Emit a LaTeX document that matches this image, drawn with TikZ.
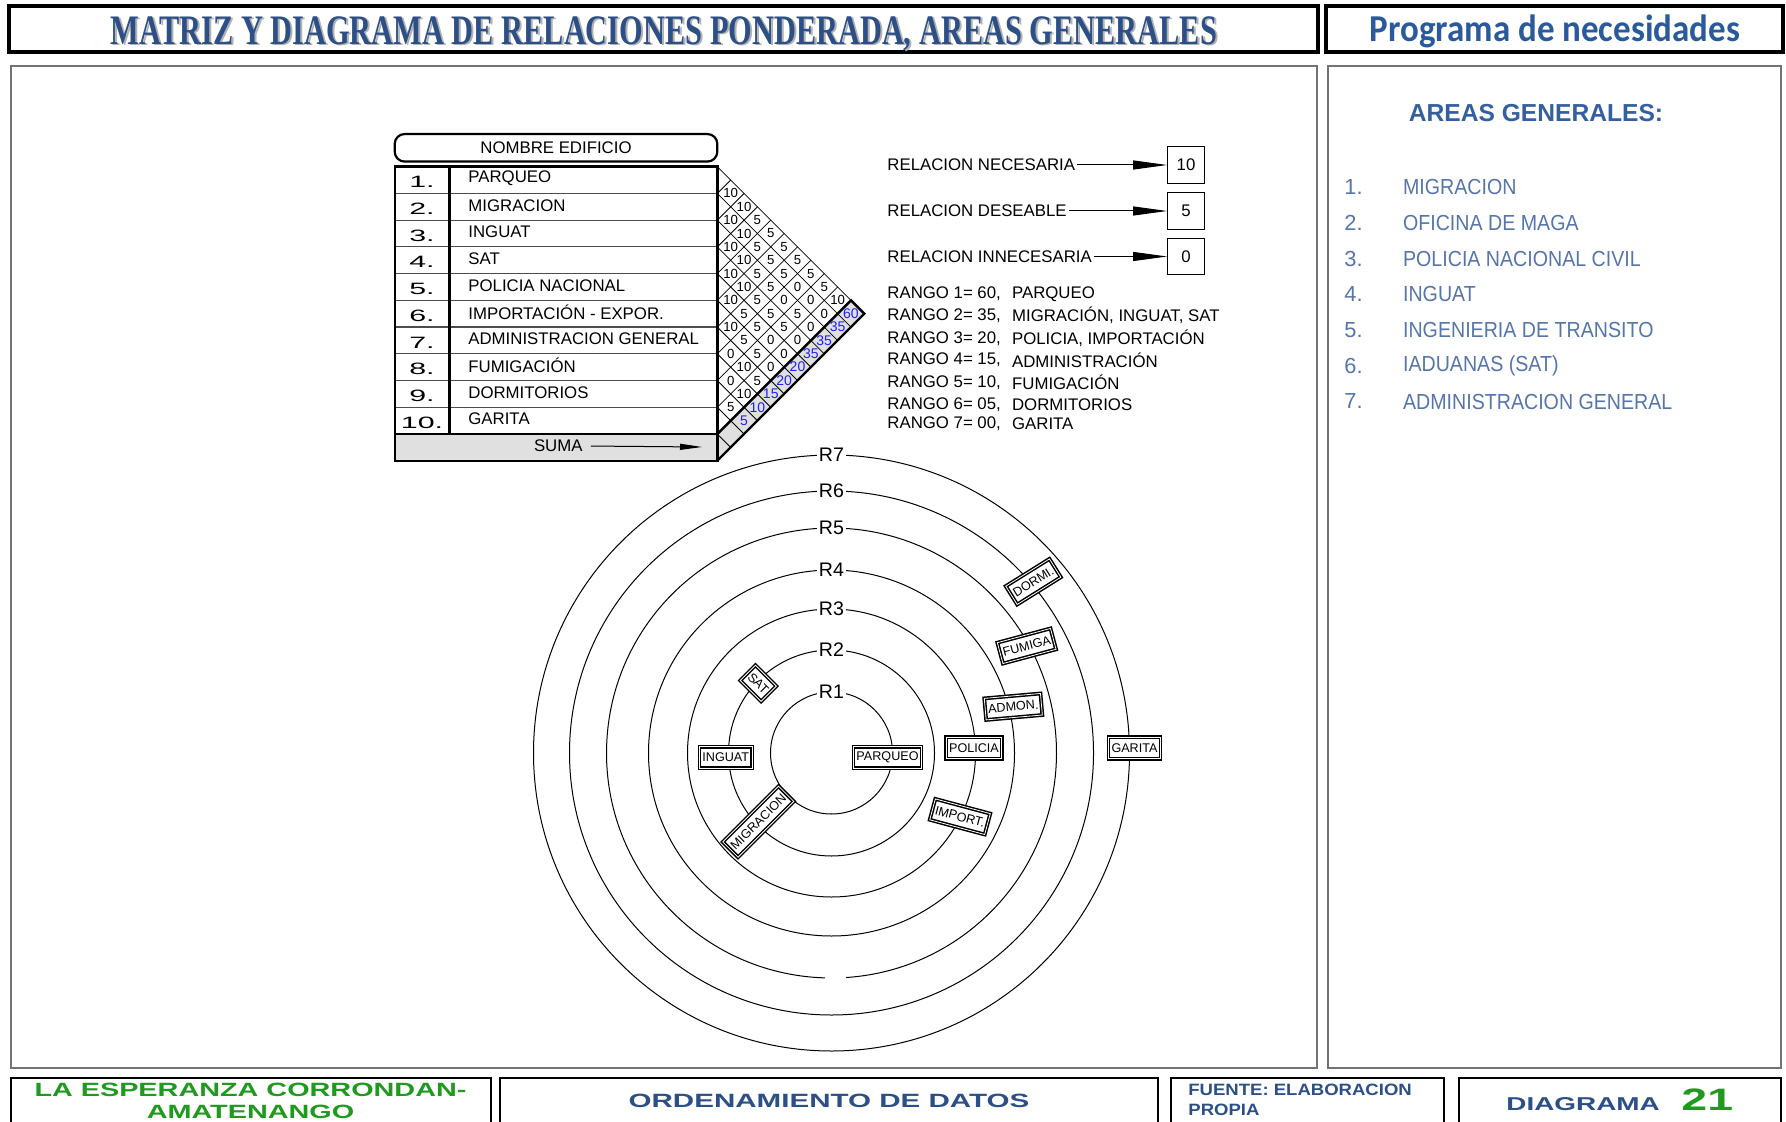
\documentclass[tikz,border=0pt]{standalone}
\usepackage{fontspec}
\setmainfont{Liberation Sans}
\newfontfamily\serifb{Liberation Serif}
\newfontfamily\calib{Carlito}
\usepackage{graphicx}
\usetikzlibrary{calc,arrows.meta,positioning}
\definecolor{ttlc}{HTML}{2B4F86}
\definecolor{progc}{HTML}{2A5A9C}
\definecolor{areac}{HTML}{34609F}
\definecolor{itemc}{HTML}{5575AB}
\definecolor{grnc}{HTML}{1F9A1F}
\definecolor{sumc}{HTML}{2020F0}
\definecolor{sumbg}{HTML}{E0E0E0}
\tikzset{
  frmtop/.style={draw=black,line width=1.6pt},
  frmpan/.style={draw=black!55,line width=1.1pt},
  frmbot/.style={draw=black,line width=1.4pt},
  ttl/.style={font=\serifb\bfseries\fontsize{21}{22}\selectfont,text=ttlc,inner sep=0pt},
  progt/.style={font=\calib\bfseries\fontsize{19}{20}\selectfont,text=progc,inner sep=0pt},
  areat/.style={font=\bfseries\fontsize{12.3}{14}\selectfont,text=areac,inner sep=0pt},
  areai/.style={font=\fontsize{10.9}{12}\selectfont,text=itemc,inner sep=0pt,anchor=west},
  extb/.style={font=\bfseries\fontsize{9.6}{11}\selectfont,inner sep=0pt},
  rowtxt/.style={font=\fontsize{8.4}{10}\selectfont,inner sep=1pt},
  numtxt/.style={font=\fontsize{8.2}{9}\selectfont,inner sep=0pt},
  legtxt/.style={font=\fontsize{8.4}{10}\selectfont,inner sep=1pt},
  hdrbox/.style={draw,line width=1.1pt,rounded corners=5pt,minimum width=161.3pt,minimum height=13.8pt,font=\fontsize{8.4}{10}\selectfont,inner sep=0pt},
  valbox/.style={draw,line width=0.6pt,minimum size=18.3pt,inner sep=0pt,font=\fontsize{8.4}{10}\selectfont},
  legar/.style={-{Triangle[length=17pt,width=4.5pt]},line width=0.5pt},
  sumar/.style={-{Triangle[length=11pt,width=3pt]},line width=0.5pt,shorten <=3pt},
  rowln/.style={draw=black!70,line width=0.6pt},
  gridln/.style={line width=0.4pt},
  mthick/.style={line width=1.2pt},
  cellv/.style={font=\fontsize{6.6}{7}\selectfont,inner sep=0pt},
  sumv/.style={font=\fontsize{7}{8}\selectfont,text=sumc,inner sep=0pt},
  ring/.style={line width=0.5pt},
  rlab/.style={fill=white,inner sep=1pt,font=\fontsize{9.8}{10}\selectfont},
  bld/.style={draw,double,line width=0.75pt,double distance=0.4pt,fill=white,font=\fontsize{6.3}{7}\selectfont,inner xsep=1.5pt,inner ysep=0pt,minimum height=10.8pt}
}
\begin{document}
\begin{tikzpicture}[x=0.5pt,y=-0.5pt]
\useasboundingbox (0,0) rectangle (1786,1122);
\fill[white] (0,0) rectangle (1786,1122);
% marcos
\draw[frmtop] (9,6) rectangle (1318,52);
\draw[frmtop] (1326,6) rectangle (1783,52);
\draw[frmpan] (11,66) rectangle (1317,1068);
\draw[frmpan] (1328,66) rectangle (1781,1068);
\draw[frmbot] (11,1130) |- (491,1078) -- (491,1130);
\draw[frmbot] (500,1130) |- (1158,1078) -- (1158,1130);
\draw[frmbot] (1171,1130) |- (1444,1078) -- (1444,1130);
\draw[frmbot] (1459,1130) |- (1781,1078) -- (1781,1130);
% titulos
\node[ttl,text=black!30] (ttlsh) at (666,35.3) {\scalebox{0.723}[1]{MATRIZ Y DIAGRAMA DE RELACIONES PONDERADA, AREAS GENERALES}};
\node[ttl] (ttl) at (664,33.5) {\scalebox{0.723}[1]{MATRIZ Y DIAGRAMA DE RELACIONES PONDERADA, AREAS GENERALES}};
\node[progt] (prog) at (1555,31.5) {\scalebox{0.92}[1]{Programa de necesidades}};
% panel derecho
\node[areat] (areas) at (1536,112.8) {AREAS GENERALES:};
\foreach \n/\tx in {1/MIGRACION,2/OFICINA  DE MAGA,3/POLICIA  NACIONAL  CIVIL,4/INGUAT,5/INGENIERIA  DE TRANSITO,6/IADUANAS (SAT),7/ADMINISTRACION  GENERAL}{
  \node[areai] (an\n) at (1344,{187.3+(\n-1)*35.7}) {\n.};
  \node[areai] (ai\n) at (1402.7,{187.3+(\n-1)*35.7}) {\scalebox{0.9}[1]{\tx}};
}
% pie
\node[extb,text=grnc] (loc1) at (250.5,1090) {\scalebox{1.5}[1]{LA ESPERANZA  CORRONDAN-}};
\node[extb,text=grnc] (loc2) at (250.5,1112) {\scalebox{1.5}[1]{AMATENANGO}};
\node[extb,text=ttlc] (orden) at (829,1101) {\scalebox{1.54}[1]{ORDENAMIENTO DE DATOS}};
\node[extb,text=ttlc,anchor=west,font=\bfseries\fontsize{8.2}{9}\selectfont] (fte1) at (1188,1090) {\scalebox{1.13}[1]{FUENTE: ELABORACION}};
\node[extb,text=ttlc,anchor=west,font=\bfseries\fontsize{8.2}{9}\selectfont] (fte2) at (1188,1110) {\scalebox{1.13}[1]{PROPIA}};
\node[extb,text=ttlc,anchor=west,font=\bfseries\fontsize{9.3}{10}\selectfont] (diag) at (1506,1104) {\scalebox{1.5}[1]{DIAGRAMA}};
\node[extb,text=grnc,anchor=west,font=\bfseries\fontsize{15.5}{16}\selectfont] (dnum) at (1681,1100) {\scalebox{1.5}[1]{21}};
% matriz
\def\mX{717.3}\def\mT{166.7}\def\mh{26.73}
\node[hdrbox] (hdr) at (556,147.8) {NOMBRE EDIFICIO};
\fill[sumbg] (394.7,\mT+10*\mh) rectangle (\mX,\mT+11*\mh);
\fill[sumbg] (\mX,\mT+10*\mh) -- ++(5*\mh,-5*\mh) -- ++(0.5*\mh,0.5*\mh) -- (\mX,\mT+11*\mh) -- cycle;
\foreach \k in {0,...,11}{
  \draw[gridln] (\mX,\mT+\k*\mh) -- ++({(11-\k)*\mh/2},{(11-\k)*\mh/2});
  \draw[gridln] (\mX,\mT+\k*\mh) -- ++({\k*\mh/2},{-\k*\mh/2});
}
\draw[mthick] (\mX,\mT+10*\mh) -- ++(5*\mh,-5*\mh) -- ++(0.5*\mh,0.5*\mh) -- (\mX,\mT+11*\mh);
\foreach \k in {1,...,9}
  \draw[rowln] (394.7,\mT+\k*\mh) -- (\mX,\mT+\k*\mh);
\draw[mthick] (394.7,\mT+10*\mh) -- (\mX,\mT+10*\mh);
\draw[mthick] (449.3,\mT) -- (449.3,\mT+10*\mh);
\draw[mthick] (394.7,\mT) rectangle (\mX,\mT+11*\mh);
\foreach \i/\nm in {1/PARQUEO,2/MIGRACION,3/INGUAT,4/SAT,5/POLICIA NACIONAL,6/IMPORTACIÓN - EXPOR.,7/ADMINISTRACION GENERAL,8/FUMIGACIÓN,9/DORMITORIOS,10/GARITA}{
  \node[numtxt] (n\i) at (422,{\mT+(\i-0.5)*\mh+2}) {\scalebox{1.85}[1]{\i.}};
  \node[rowtxt,anchor=west] (e\i) at (466,{\mT+(\i-0.5)*\mh-1.5}) {\nm};
}
\node[rowtxt] (suma) at (558.3,446) {SUMA};
\coordinate (sumaend) at (702,447);
\draw[sumar] (suma.east) -- (sumaend);
\foreach \i/\j/\v in {1/2/10,1/3/10,1/4/5,1/5/5,1/6/5,1/7/5,1/8/5,1/9/5,1/10/10,
  2/3/10,2/4/10,2/5/5,2/6/5,2/7/5,2/8/0,2/9/0,2/10/0,
  3/4/10,3/5/10,3/6/5,3/7/5,3/8/0,3/9/5,3/10/0,
  4/5/10,4/6/10,4/7/5,4/8/5,4/9/5,4/10/0,
  5/6/10,5/7/5,5/8/5,5/9/0,5/10/0,
  6/7/10,6/8/5,6/9/5,6/10/0,
  7/8/0,7/9/10,7/10/5,
  8/9/0,8/10/10,
  9/10/5}
  \node[cellv] (c\i-\j) at ({\mX+(\j-\i)*\mh/2},{\mT+(\i+\j-1)*\mh/2}) {\v};
\foreach \i/\v in {1/60,2/35,3/35,4/35,5/20,6/20,7/15,8/10,9/5}
  \node[sumv] (s\i) at ({\mX+(11-\i)*\mh/2},{\mT+(\i+10)*\mh/2}) {\v};
% leyenda
\foreach \n/\tx/\v/\y in {nec/RELACION NECESARIA/10/165,des/RELACION DESEABLE/5/211,inn/RELACION INNECESARIA/0/256.5}{
  \node[legtxt,anchor=west] (l\n) at (885,\y) {\tx};
  \node[valbox] (v\n) at (1186,\y) {\v};
  \draw[legar] (l\n.east) -- (v\n.west);
}
\foreach \k/\v/\tx/\y in {1/60/PARQUEO/294,2/35/{MIGRACIÓN, INGUAT, SAT}/315.7,3/20/{POLICIA, IMPORTACIÓN}/338.3,4/15/ADMINISTRACIÓN/360,5/10/FUMIGACIÓN/382.7,6/05/DORMITORIOS/405,7/00/GARITA/424}{
  \node[legtxt,anchor=west] (ra\k) at (885,\y) {RANGO \k= \v,};
  \node[legtxt,anchor=west] (rb\k) at (1009.7,\y) {\tx};
}
% anillos
\coordinate (ctr) at (831.5,753);
\foreach \r in {61,103,144,183,262,298}
  \draw[ring] (ctr) circle[radius=\r];
\draw[ring] (ctr) ++(91.7:225) arc[start angle=91.7,end angle=446.3,radius=225];
\foreach \r/\l in {61/1,103/2,144/3,183/4,225/5,262/6,298/7}
  \node[rlab] (r\l) at ($(ctr)+(0,-\r)$) {R\l};
% edificios
\node[bld,rotate=-45] (bsat) at (758.3,683.3) {SAT};
\node[bld] (binguat) at (725.8,757.5) {INGUAT};
\node[bld] (bparq) at (887.5,757.5) {PARQUEO};
\node[bld,rotate=45] (bmigr) at (758.3,821.7) {MIGRACION};
\node[bld] (bpoli) at (974,748) {POLICIA};
\node[bld,rotate=-15] (bimp) at (960,816.7) {IMPORT.};
\node[bld,rotate=5] (badm) at (1013.3,706.7) {ADMON.};
\node[bld,rotate=15] (bfum) at (1026.7,646) {FUMIGA};
\node[bld,rotate=32] (bdorm) at (1033.3,581.7) {DORMI.};
\node[bld] (bgar) at (1134.5,748) {GARITA};
\end{tikzpicture}
\end{document}
